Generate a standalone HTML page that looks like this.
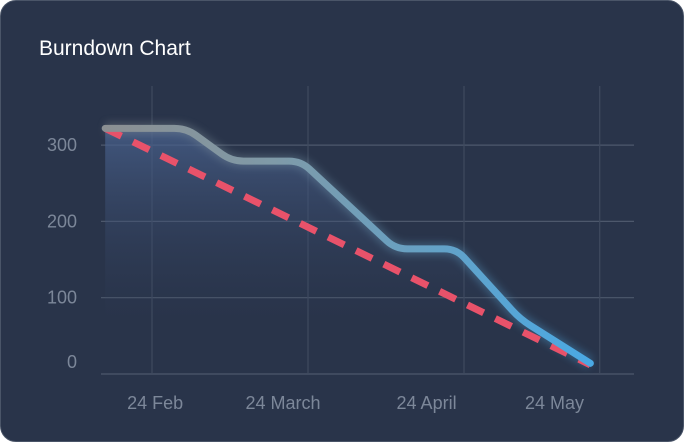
<!DOCTYPE html>
<html><head><meta charset="utf-8"><style>
html,body{margin:0;padding:0;background:#fff;}
#card{position:absolute;left:0;top:0;width:682px;height:440px;border:1px solid #4a5568;border-radius:16px;background:#29344a;overflow:hidden;font-family:"Liberation Sans",sans-serif;}
#title{position:absolute;left:38px;top:36px;color:#fff;font-size:21px;}
svg{position:absolute;left:0;top:0;}
</style></head><body>
<div id="card">
<div id="title">Burndown Chart</div>
<svg id="chart" width="684" height="442"></svg>
</div>
<script>
const yTicks=[0,100,200,300];
const xTicks=[0,1,2,2.87];
const xTickLabels=["24 Feb","24 March","24 April","24 May"];
const xLabelPos=[0.02,0.84,1.76,2.58];
const actualX=[-0.30,0.22,0.51,0.955,1.56,1.95,2.36,2.81];
const actualY=[322,322,279,279,164,164,72,14];
const idealX=[-0.30,2.81];
const idealY=[322,12];
const NS="http://www.w3.org/2000/svg";
const svg=document.getElementById('chart');
const X=v=>151+156*v, Y=v=>373-0.763*v;
function mk(t,a,p){const e=document.createElementNS(NS,t);for(const k in a)e.setAttribute(k,a[k]);(p||svg).appendChild(e);return e;}
const defs=mk('defs',{});
defs.innerHTML='<linearGradient id="lg" x1="0" y1="0" x2="1" y2="0"><stop offset="0" stop-color="#8b8f92"/><stop offset="0.35" stop-color="#7f9aa8"/><stop offset="1" stop-color="#4aa9e4"/></linearGradient><linearGradient id="ag" x1="0" y1="0" x2="0" y2="1"><stop offset="0" stop-color="#4a6390" stop-opacity="0.75"/><stop offset="0.8" stop-color="#2f3c57" stop-opacity="0"/></linearGradient><filter id="gl"><feGaussianBlur stdDeviation="4"/></filter>';
yTicks.forEach(v=>{
 const l=mk('line',{x1:100,x2:633,y1:Y(v),y2:Y(v),stroke:'#4d586c','stroke-width':1.2});
 
 const t=mk('text',{x:76,y:Y(v)+(v===0?-6:6),'text-anchor':'end',fill:'#7c8799','font-size':18});
 t.textContent=v;
});
xTicks.forEach((v,i)=>{
 const l=mk('line',{x1:X(v),x2:X(v),y1:85,y2:373,stroke:'#3f4a5f','stroke-width':1.2});
 
 const t=mk('text',{x:X(xLabelPos[i]),y:408,'text-anchor':'middle',fill:'#7c8799','font-size':18});
 t.textContent=xTickLabels[i];
});
function rounded(xs,ys,r){
 const P=xs.map((x,i)=>[X(x),Y(ys[i])]);
 let d='M'+P[0][0]+','+P[0][1];
 for(let i=1;i<P.length-1;i++){
  const a=P[i-1],b=P[i],c=P[i+1];
  const l1=Math.hypot(b[0]-a[0],b[1]-a[1]),l2=Math.hypot(c[0]-b[0],c[1]-b[1]);
  const r1=Math.min(r,l1/2),r2=Math.min(r,l2/2);
  const p1=[b[0]-(b[0]-a[0])*r1/l1,b[1]-(b[1]-a[1])*r1/l1];
  const p2=[b[0]+(c[0]-b[0])*r2/l2,b[1]+(c[1]-b[1])*r2/l2];
  d+=' L'+p1[0]+','+p1[1]+' Q'+b[0]+','+b[1]+' '+p2[0]+','+p2[1];
 }
 const L=P[P.length-1];d+=' L'+L[0]+','+L[1];return d;
}
const lineD=rounded(actualX,actualY,12);
const area=mk('path',{d:lineD+' L'+X(actualX[actualX.length-1])+','+Y(0)+' L'+X(actualX[0])+','+Y(0)+'Z',fill:'url(#ag)'});

const glow=mk('path',{d:lineD,fill:'none',stroke:'url(#lg)','stroke-width':12,opacity:0.35,filter:'url(#gl)'});

const ideal=mk('line',{x1:X(idealX[0]),y1:Y(idealY[0]),x2:X(idealX[1]),y2:Y(idealY[1]),stroke:'#e8526a','stroke-width':7,'stroke-dasharray':'18 13'});

const line=mk('path',{d:lineD,fill:'none',stroke:'url(#lg)','stroke-width':7,'stroke-linecap':'round','stroke-linejoin':'round'});

</script>
</body></html>
